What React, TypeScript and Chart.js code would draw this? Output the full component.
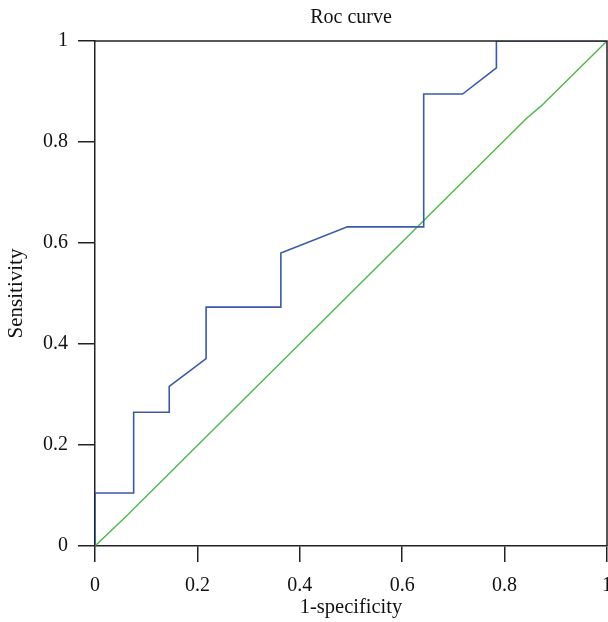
import React, { useEffect, useRef } from "react";
import { Chart, registerables } from "chart.js";

Chart.register(...registerables);

const rocX = [0, 0, 0.0755, 0.0755, 0.145, 0.145, 0.217, 0.217, 0.363, 0.363, 0.493, 0.642, 0.642, 0.718, 0.784, 0.784, 1];
const rocY = [0, 0.105, 0.105, 0.265, 0.265, 0.316, 0.371, 0.473, 0.473, 0.58, 0.632, 0.632, 0.895, 0.895, 0.947, 1, 1];
const refX = [0, 0.06, 0.843, 0.871, 1];
const refY = [0, 0.058, 0.847, 0.871, 1];
const tickValues = [0, 0.2, 0.4, 0.6, 0.8, 1];
const tickLabels = ["0", "0.2", "0.4", "0.6", "0.8", "1"];

const FONT = "'Liberation Serif', 'DejaVu Serif', serif";

function labelFor(v: number) {
  const i = tickValues.findIndex((t) => Math.abs(t - v) < 1e-6);
  return i >= 0 ? tickLabels[i] : "";
}

const boxPlugin = {
  id: "boxPlugin",
  afterDraw(chart: any) {
    const { ctx, chartArea } = chart;
    ctx.save();
    ctx.strokeStyle = "#222";
    ctx.lineWidth = 1.5;
    ctx.beginPath();
    ctx.moveTo(chartArea.left, chartArea.top);
    ctx.lineTo(chartArea.right, chartArea.top);
    ctx.lineTo(chartArea.right, chartArea.bottom);
    ctx.stroke();
    ctx.restore();
  },
};

export default function App() {
  const ref = useRef<HTMLCanvasElement>(null);
  useEffect(() => {
    if (!ref.current) return;
    const chart = new Chart(ref.current, {
      type: "line",
      data: {
        datasets: [
          {
            label: "ROC",
            data: rocX.map((x, i) => ({ x, y: rocY[i] })),
            borderColor: "#3b5aa8",
            borderWidth: 1.6,
            pointRadius: 0,
            fill: false,
            tension: 0,
          },
          {
            label: "Reference",
            data: refX.map((x, i) => ({ x, y: refY[i] })),
            borderColor: "#4db848",
            borderWidth: 1.4,
            pointRadius: 0,
            fill: false,
            tension: 0,
          },
        ],
      },
      options: {
        responsive: false,
        animation: false,
        layout: { padding: { left: 0, right: 1, top: 0, bottom: 0 } },
        plugins: {
          legend: { display: false },
          tooltip: { enabled: false },
          title: {
            display: true,
            fullSize: false,
            text: "Roc curve",
            color: "#111",
            font: { family: FONT, size: 20, weight: "normal", lineHeight: 1.2 },
            padding: { top: 6, bottom: 11 },
          },
        },
        scales: {
          x: {
            type: "linear",
            min: 0,
            max: 1,
            afterBuildTicks: (s: any) => {
              s.ticks = tickValues.map((v) => ({ value: v }));
            },
            afterFit: (s: any) => {
              s.height = 76;
              s.paddingLeft = 0;
              s.paddingRight = 0;
            },
            ticks: {
              color: "#111",
              font: { family: FONT, size: 20 },
              padding: 12,
              maxRotation: 0,
              callback: (v: any) => labelFor(Number(v)),
            },
            grid: {
              drawOnChartArea: false,
              drawTicks: true,
              tickLength: 16,
              color: "#222",
              lineWidth: 1.5,
            },
            border: { display: true, color: "#222", width: 1.5 },
            title: {
              display: true,
              text: "1-specificity",
              color: "#111",
              font: { family: FONT, size: 20.5 },
              padding: { top: 0, bottom: 2 },
            },
          },
          y: {
            type: "linear",
            min: 0,
            max: 1,
            afterBuildTicks: (s: any) => {
              s.ticks = tickValues.map((v) => ({ value: v }));
            },
            afterFit: (s: any) => {
              s.width = 95;
              s.paddingTop = 0;
              s.paddingBottom = 0;
            },
            ticks: {
              color: "#111",
              font: { family: FONT, size: 20 },
              padding: 10,
              callback: (v: any) => labelFor(Number(v)),
            },
            grid: {
              drawOnChartArea: false,
              drawTicks: true,
              tickLength: 17,
              color: "#222",
              lineWidth: 1.5,
            },
            border: { display: true, color: "#222", width: 1.5 },
            title: {
              display: true,
              text: "Sensitivity",
              color: "#111",
              font: { family: FONT, size: 21 },
              padding: { top: 4, bottom: 0 },
            },
          },
        },
      } as any,
      plugins: [boxPlugin],
    });
    return () => chart.destroy();
  }, []);
  return (
    <div style={{ position: "fixed", left: 0, top: 0, width: 608, height: 622, background: "#fff" }}>
      <canvas ref={ref} width={608} height={622} />
    </div>
  );
}
